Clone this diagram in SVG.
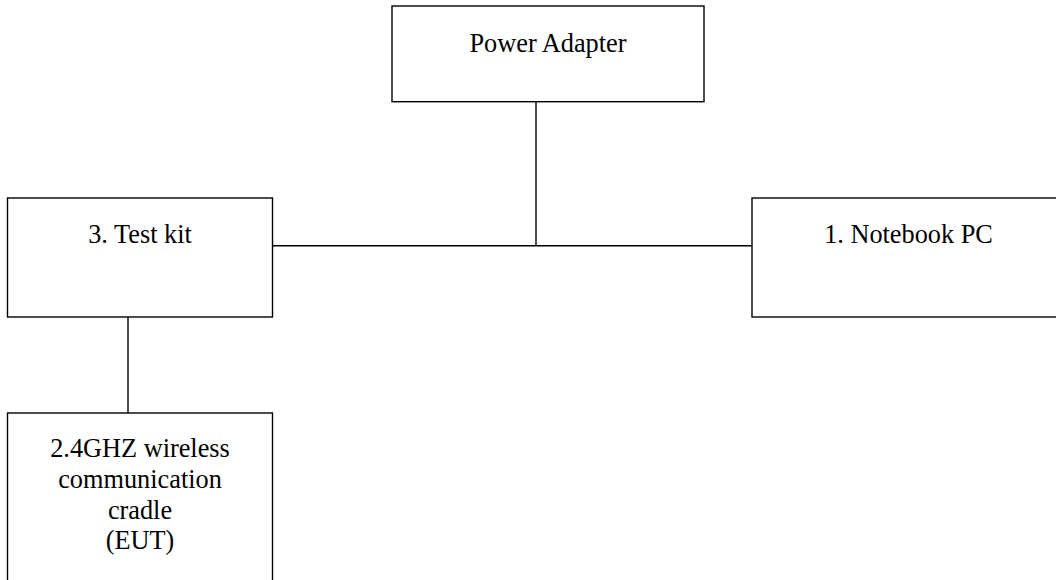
<svg xmlns="http://www.w3.org/2000/svg" width="1056" height="580" viewBox="0 0 1056 580">
<style>
.box{fill:#fff;stroke:#000;stroke-width:1.4}
.ln{stroke:#000;stroke-width:1.4;fill:none}
text{font-family:"Liberation Serif","Times New Roman",serif;font-size:26.3px;fill:#000;text-anchor:middle}
</style>
<rect width="1056" height="580" fill="#fff"/>
<g id="connectors">
<line class="ln" x1="272" y1="245.7" x2="752" y2="245.7"/>
<line class="ln" x1="536" y1="101.7" x2="536" y2="245.7"/>
<line class="ln" x1="128" y1="317" x2="128" y2="413"/>
</g>
<g id="power-adapter">
<rect class="box" x="392" y="6" width="312" height="95.7"/>
<text x="548" y="52">Power Adapter</text>
</g>
<g id="test-kit">
<rect class="box" x="7.5" y="198" width="265" height="119"/>
<text x="140" y="243">3. Test kit</text>
</g>
<g id="notebook-pc">
<rect class="box" x="752" y="198" width="313" height="119"/>
<text x="908.5" y="243">1. Notebook PC</text>
</g>
<g id="eut">
<rect class="box" x="7.5" y="413" width="265" height="180"/>
<text x="140" y="457">2.4GHZ wireless</text>
<text x="140" y="487.5">communication</text>
<text x="140" y="518.5">cradle</text>
<text x="140" y="549">(EUT)</text>
</g>
</svg>
